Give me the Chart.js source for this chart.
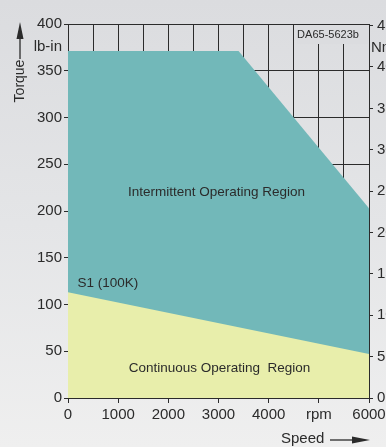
<!DOCTYPE html>
<html>
<head>
<meta charset="utf-8">
<script src="https://cdn.jsdelivr.net/npm/chart.js@4"></script>
<style>
  html, body { margin: 0; padding: 0; }
  body {
    width: 386px; height: 447px; overflow: hidden;
    background: linear-gradient(to bottom, #dbdcdf 0%, #e4e5e7 50%, #efefef 100%);
  }
  #wrap { position: relative; width: 386px; height: 447px; }
</style>
</head>
<body>
<div id="wrap"><canvas id="torque"></canvas></div>
<script>
// Speed (rpm) / torque (lb-in) corner points of each region
const intermittentSpeed  = [0, 3400, 6000];
const intermittentTorque = [371, 371, 203];
const continuousSpeed    = [0, 6000];
const continuousTorque   = [113, 47];

const LBIN_PER_NM = 8.8507;
const ink = '#2b2b2b';
const font = 'Liberation Sans, Arial, sans-serif';

function pts(xs, ys) {
  return xs.map((x, i) => ({ x, y: ys[i] }));
}

// Annotations: region names, part number, axis captions and arrows
const annotate = {
  id: 'annotate',
  beforeDatasetsDraw(chart) {
    const c = chart.ctx;
    // part number tag sits over the grid
    c.save();
    c.fillStyle = '#dbdcdf';
    c.fillRect(297, 25, 71, 19);
    c.restore();
  },
  afterDraw(chart) {
    const c = chart.ctx;
    const x = chart.scales.x, y = chart.scales.y;
    c.save();
    c.fillStyle = ink;
    c.strokeStyle = ink;
    c.textBaseline = 'middle';

    c.font = '13.5px ' + font;
    c.textAlign = 'center';
    c.fillText('Intermittent Operating Region', x.getPixelForValue(2960), y.getPixelForValue(220));
    c.fillText('Continuous Operating  Region', x.getPixelForValue(3020), y.getPixelForValue(32));
    c.textAlign = 'left';
    c.fillText('S1 (100K)', x.getPixelForValue(190), y.getPixelForValue(123));

    c.font = '11px ' + font;
    c.textAlign = 'center';
    c.fillText('DA65-5623b', 328, 35);

    c.font = '15px ' + font;
    c.textAlign = 'right';
    c.fillText('lb-in', 62, 47);
    c.textAlign = 'left';
    c.fillText('Nm', 371, 48);

    // vertical caption with upward arrow
    c.save();
    c.font = '14px ' + font;
    c.translate(20, 81);
    c.rotate(-Math.PI / 2);
    c.textAlign = 'center';
    c.fillText('Torque', 0, 0);
    c.restore();
    c.lineWidth = 1.3;
    c.beginPath(); c.moveTo(20, 59); c.lineTo(20, 34); c.stroke();
    c.beginPath(); c.moveTo(20, 22); c.lineTo(23.5, 39); c.lineTo(16.5, 39); c.closePath(); c.fill();

    // horizontal caption with right arrow
    c.textAlign = 'left';
    c.fillText('Speed', 281, 439);
    c.beginPath(); c.moveTo(330, 440); c.lineTo(356, 440); c.stroke();
    c.beginPath(); c.moveTo(370, 440); c.lineTo(352, 436.5); c.lineTo(352, 443.5); c.closePath(); c.fill();
    c.restore();
  }
};

new Chart(document.getElementById('torque'), {
  type: 'line',
  data: {
    datasets: [
      {
        label: 'Continuous',
        data: pts(continuousSpeed, continuousTorque),
        backgroundColor: '#e8eeab',
        borderWidth: 0,
        pointRadius: 0,
        fill: 'origin',
        order: 0,
      },
      {
        label: 'Intermittent',
        data: pts(intermittentSpeed, intermittentTorque),
        backgroundColor: '#72b8b9',
        borderWidth: 0,
        pointRadius: 0,
        fill: 'origin',
        order: 1,
      },
    ],
  },
  options: {
    responsive: true,
    maintainAspectRatio: false,
    animation: false,
    layout: { padding: { top: 24, left: 0, right: 0, bottom: 0 } },
    plugins: { legend: { display: false }, tooltip: { enabled: false } },
    scales: {
      x: {
        type: 'linear',
        min: 0, max: 6000,
        afterFit(s) { s.height = 49; s.paddingLeft = 0; s.paddingRight = 0; },
        border: { color: ink, width: 1 },
        grid: {
          color: ink,
          lineWidth: 1,
          tickLength: 5,
          tickColor: ctx => (ctx.tick && ctx.tick.value % 1000 ? 'rgba(0,0,0,0)' : ink),
        },
        ticks: {
          stepSize: 500,
          padding: 3,
          maxRotation: 0,
          autoSkip: false,
          color: ink,
          font: { size: 15, family: font },
          callback: v => (v % 1000 ? '' : v === 5000 ? 'rpm' : String(v)),
        },
      },
      y: {
        position: 'left',
        min: 0, max: 400,
        afterFit(s) { s.width = 68; s.paddingTop = 0; s.paddingBottom = 0; },
        border: { color: ink, width: 1 },
        grid: { color: ink, lineWidth: 1, tickLength: 4 },
        ticks: { stepSize: 50, padding: 2, color: ink, font: { size: 15, family: font } },
      },
      y2: {
        position: 'right',
        min: 0, max: 400 / LBIN_PER_NM,
        afterFit(s) { s.width = 17; s.paddingTop = 0; s.paddingBottom = 0; },
        border: { color: ink, width: 1 },
        grid: { drawOnChartArea: false, color: ink, tickLength: 4 },
        ticks: {
          stepSize: 5,
          includeBounds: false,
          padding: 4,
          color: ink,
          font: { size: 15, family: font },
        },
      },
    },
  },
  plugins: [annotate],
});
</script>
</body>
</html>
